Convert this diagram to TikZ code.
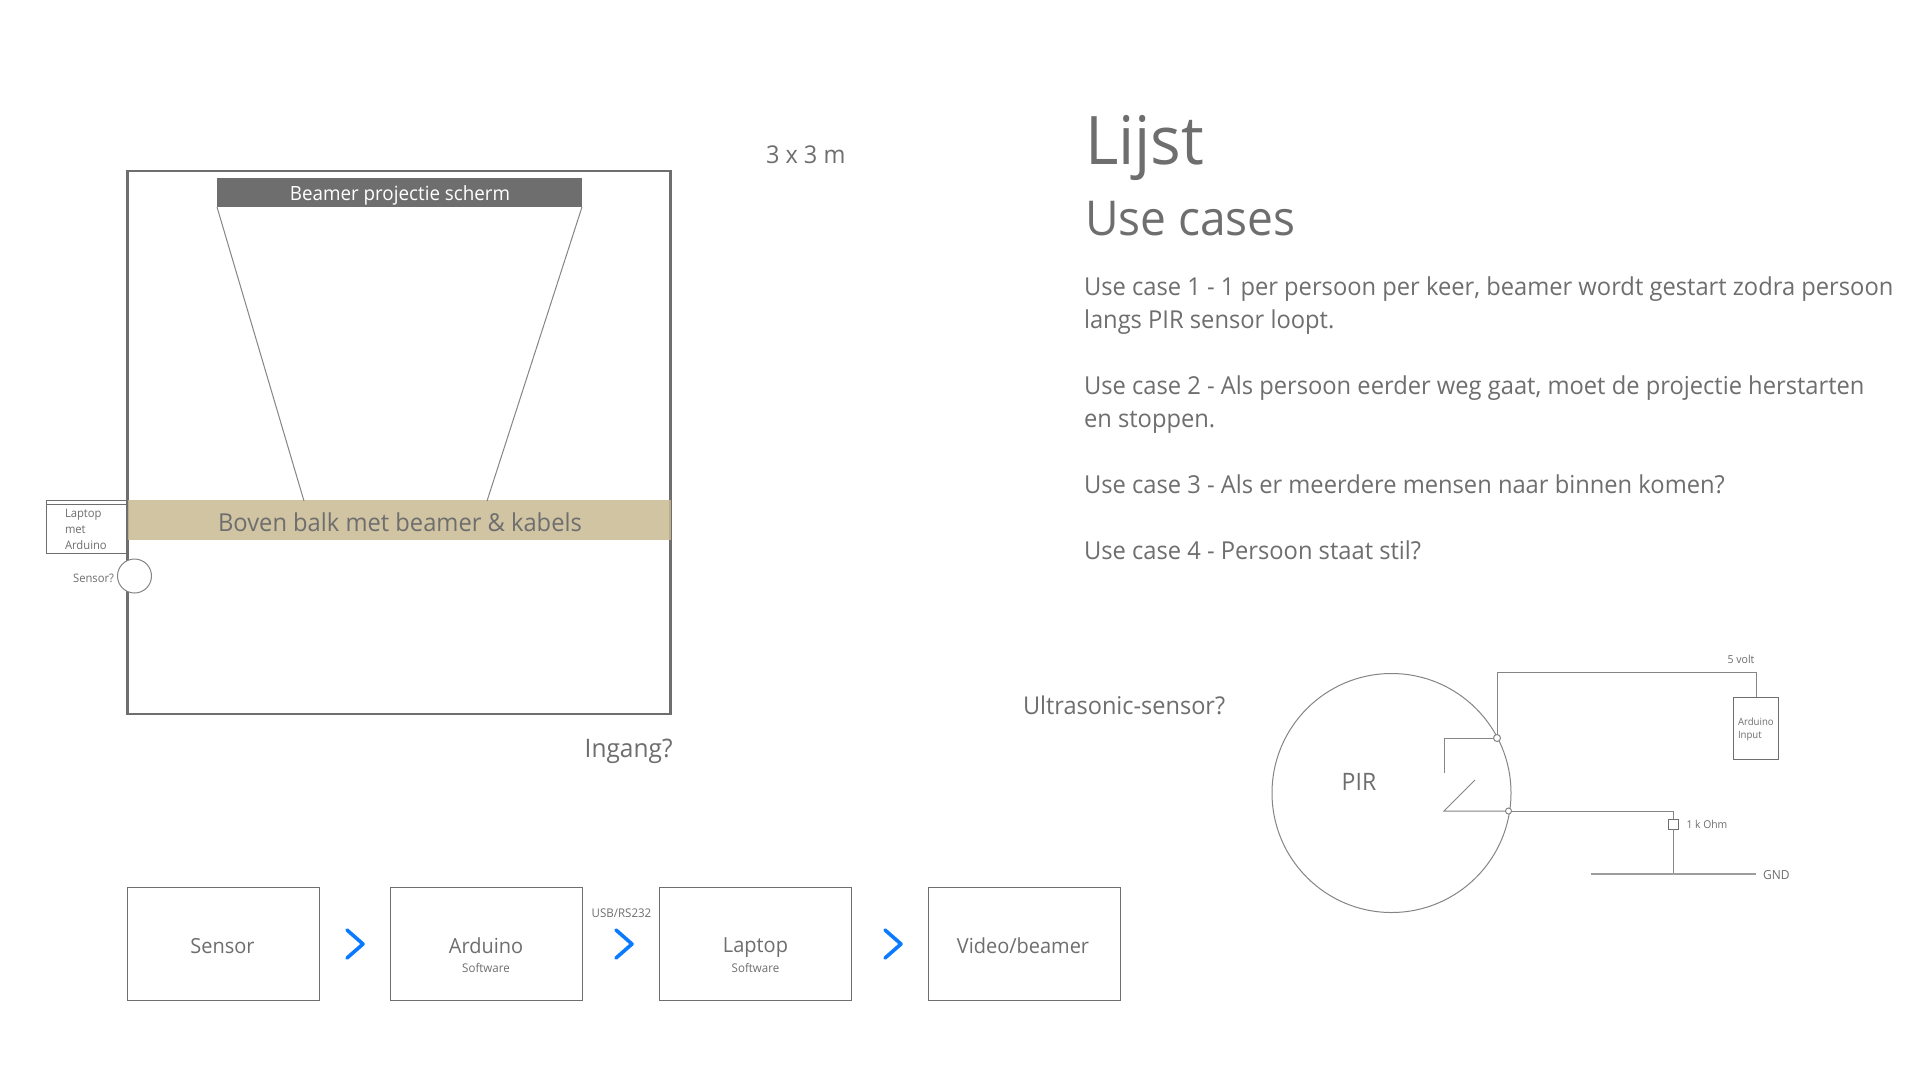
\documentclass[tikz,border=0pt]{standalone}
\usepackage{fontspec}
\setmainfont[FakeStretch=0.96]{Open Sans}
\definecolor{ink}{HTML}{6E6E6E}
\definecolor{thin}{HTML}{858585}
\definecolor{balk}{HTML}{C9BA92}
\definecolor{chev}{HTML}{0A7AFF}
\tikzset{
  txt/.style={text=ink,inner sep=0pt,outer sep=0pt,font=\fontsize{#1}{#1}\selectfont},
  para/.style={text=ink,inner sep=0pt,outer sep=0pt,anchor=north west,align=left,font=\fontsize{24.7}{33}\selectfont},
  flowbox/.style={draw=ink,line width=1pt,minimum width=192pt,minimum height=113pt,inner sep=0pt,outer sep=0pt,fill=white},
  wire/.style={draw=thin,line width=1pt},
  dot/.style={circle,draw=thin,line width=1pt,fill=white,inner sep=0pt,outer sep=0pt,minimum size=#1},
  chevron/.style={draw=chev,line width=3.6pt,line cap=round,line join=round},
}
\begin{document}
\begin{tikzpicture}[x=1pt,y=-1pt]
\useasboundingbox (0,0) rectangle (1920,1080);
\fill[white] (0,0) rectangle (1920,1080);
% room
\node[draw=ink,line width=2.9pt,minimum width=543.5pt,minimum height=543pt,inner sep=0pt,outer sep=0pt] (room) at (399,442.5) {};
% screen
\node[fill=ink,minimum width=365pt,minimum height=29pt,inner sep=0pt,outer sep=0pt] (screen) at (399.5,192.5) {};
\node[text=white,inner sep=0pt,outer sep=0pt,font=\fontsize{19.6}{20}\selectfont] (screenl) at (400,195) {Beamer projectie scherm};
\node[fill=balk,fill opacity=0.85,minimum width=543pt,minimum height=40pt,inner sep=0pt,outer sep=0pt] (balk) at (399,520) {};
\node[txt=24.7] (balkl) at (400,522.5) {Boven balk met beamer \& kabels};
\coordinate (pl) at (304,501);
\coordinate (pr) at (487,501);
\draw[wire] (screen.south west) -- (pl);
\draw[wire] (screen.south east) -- (pr);
% laptop
\node[draw=ink,line width=1pt,minimum width=80pt,minimum height=53pt,inner sep=0pt,outer sep=0pt] (laptop) at (86,526.5) {};
\draw[draw=ink,line width=1pt] ([yshift=-4pt]laptop.north west) -- ([yshift=-4pt]laptop.north east);
\node[txt=11.7,anchor=west] (l1) at (65,514.5) {Laptop};
\node[txt=11.7,anchor=west] (l2) at (65,530) {met};
\node[txt=11.7,anchor=west] (l3) at (65,545.5) {Arduino};
\node[dot=34pt] (sensor) at (134.5,576) {};
\node[txt=11.7,anchor=east] (sl) at (114,578) {Sensor?};
% labels
\node[txt=24.5,anchor=west] (dim) at (766,155) {3 x 3 m};
\node[txt=25.5,anchor=east] (ing) at (672.5,751) {Ingang?};
\node[txt=24.5,anchor=west] (ultra) at (1023,705) {Ultrasonic-sensor?};
\node[txt=67,anchor=west] (lijst) at (1085,148) {Lijst};
\node[txt=48,anchor=west] (uc) at (1085,219) {Use cases};
\node[para] (p1) at (1084,277) {Use case 1 - 1 per persoon per keer, beamer wordt gestart zodra persoon\\langs PIR sensor loopt.};
\node[para] (p2) at (1084,376) {Use case 2 - Als persoon eerder weg gaat, moet de projectie herstarten\\en stoppen.};
\node[para] (p3) at (1084,475) {Use case 3 - Als er meerdere mensen naar binnen komen?};
\node[para] (p4) at (1084,541) {Use case 4 - Persoon staat stil?};
% PIR
\node[circle,draw=thin,line width=1pt,minimum size=239pt,inner sep=0pt,outer sep=0pt] (pir) at (1391.5,793) {};
\node[txt=24] (pirl) at (1359,782) {PIR};
\node[draw=ink,line width=1pt,minimum width=45.5pt,minimum height=62pt,inner sep=0pt,outer sep=0pt] (ard) at (1756,728) {};
\node[txt=10,anchor=west] (a1) at (1738,722) {Arduino};
\node[txt=10,anchor=west] (a2) at (1738,736.5) {Input};
\node[dot=7pt] (j1) at (1497,738) {};
\node[dot=6pt] (j2) at (1508.5,811) {};
\coordinate (sa) at (1444,773);
\coordinate (sb) at (1475,780);
\coordinate (sc) at (1444,811);
\node[draw=ink,line width=1pt,minimum width=10pt,minimum height=10pt,inner sep=0pt,outer sep=0pt] (res) at (1673.5,824) {};
\coordinate (gl) at (1591,874);
\coordinate (gr) at (1756,874);
\coordinate (gm) at (1673.5,874);
\draw[wire] (j1.north) |- (ard.north |- 0,672) -- (ard.north);
\draw[wire] (j1.west) -| (sa);
\draw[wire] (sb) -- (sc) -- (j2.west);
\draw[wire] (j2.east) -| (res.north);
\draw[wire] (res.south) -- (gm);
\draw[draw=thin!80,line width=2pt] (gl) -- (gr);
\node[txt=11] (v5) at (1741,659) {5 volt};
\node[txt=10.8,anchor=west] (rl) at (1686.5,824) {1 k Ohm};
\node[txt=12.5,anchor=west] (gnd) at (1763,875) {GND};
% flow
\node[flowbox] (f1) at (223.5,943.5) {};
\node[flowbox] (f2) at (486.5,943.5) {};
\node[flowbox] (f3) at (755.5,943.5) {};
\node[flowbox] (f4) at (1024.5,943.5) {};
\node[txt=20.8] (t1) at (222.5,946) {Sensor};
\node[txt=20.8] (t2) at (486,946) {Arduino};
\node[txt=12] (t2b) at (486,968) {Software};
\node[txt=20.8] (t3) at (755.5,948) {Laptop};
\node[txt=12] (t3b) at (755.5,968) {Software};
\node[txt=20.8] (t4) at (1023,946) {Video/beamer};
\node[txt=12] (usb) at (621.5,913) {USB/RS232};
\draw[chevron] (347,930) -- (363,944) -- (347,958);
\draw[chevron] (616,930) -- (632,944) -- (616,958);
\draw[chevron] (885,930) -- (901,944) -- (885,958);
\end{tikzpicture}
\end{document}
